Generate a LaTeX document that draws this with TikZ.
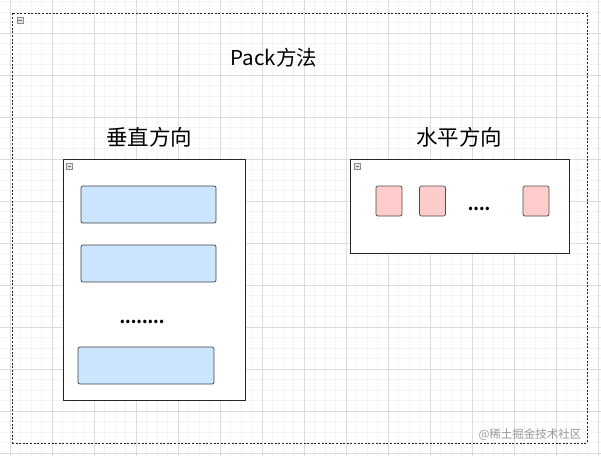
\documentclass[tikz,border=0pt]{standalone}
\usepackage{fontspec}
\setmainfont{Noto Sans CJK SC}
\newfontfamily\cjk{Noto Sans CJK SC}
\begin{document}
\begin{tikzpicture}[x=1pt,y=-1pt,
  container/.style={draw=black!85,line width=0.9pt,fill=white},
  bluebox/.style={draw=black!75,fill=blue!20!cyan!10!white,rounded corners=2pt,line width=0.7pt},
  pinkbox/.style={draw=black!70,fill=red!20,rounded corners=2pt,line width=0.7pt},
  title/.style={font=\fontsize{21.5}{24}\selectfont},
  dots/.style={font=\fontsize{16}{18}\selectfont\bfseries},
  icon/.style={draw=black!45,fill=black!10,minimum size=6pt,inner sep=0pt,line width=0.5pt}
]
\definecolor{bluefill}{HTML}{CCE5FF}
\definecolor{pinkfill}{HTML}{FFCCCC}
\definecolor{minorgrid}{HTML}{F4F4F4}
\definecolor{majorgrid}{HTML}{DCDCDC}
\useasboundingbox (0,0) rectangle (601,456);
\fill[white] (0,0) rectangle (601,456);
% grid
\foreach \i in {0,...,58} {
  \draw[minorgrid,line width=0.5pt] ({10+\i*10.5-10.5},0) -- ({10+\i*10.5-10.5},456);
}
\foreach \i in {0,...,44} {
  \draw[minorgrid,line width=0.5pt] (0,{-9+\i*10.5}) -- (601,{-9+\i*10.5});
}
\foreach \i in {0,...,14} {
  \draw[majorgrid,line width=0.6pt] ({10+\i*42},0) -- ({10+\i*42},456);
}
\foreach \i in {0,...,11} {
  \draw[majorgrid,line width=0.6pt] (0,{-9+\i*42}) -- (601,{-9+\i*42});
}
% outer dashed frame
\node[draw=black!85,dash pattern=on 2pt off 1.6pt,line width=0.8pt,minimum width=575pt,minimum height=430pt,inner sep=0pt] (outer) at (299.5,228) {};
\node[icon] (outericon) at (20,20) {};
\draw[black!55,line width=0.6pt] ([xshift=1.5pt]outericon.west) -- ([xshift=-1.5pt]outericon.east);
\node[font=\fontsize{20.5}{24}\selectfont] (packtitle) at (274,58) {Pack方法};
% left container
\node[title] (vtitle) at (149,137) {垂直方向};
\node[container,minimum width=182pt,minimum height=241pt,inner sep=0pt] (left) at (154,279.5) {};
\node[icon] (lefticon) at (69.5,166.5) {};
\draw[black!55,line width=0.6pt] ([xshift=1.5pt]lefticon.west) -- ([xshift=-1.5pt]lefticon.east);
\node[bluebox,fill=bluefill,minimum width=135pt,minimum height=37pt,inner sep=0pt] (b1) at (148.5,204.5) {};
\node[bluebox,fill=bluefill,minimum width=135pt,minimum height=37pt,inner sep=0pt] (b2) at (148.5,263.5) {};
\node[dots] (vdots) at (142,322) {........};
\node[bluebox,fill=bluefill,minimum width=136pt,minimum height=37pt,inner sep=0pt] (b3) at (146,365.5) {};
% right container
\node[title] (htitle) at (459,137) {水平方向};
\node[container,minimum width=219pt,minimum height=94pt,inner sep=0pt] (right) at (459.5,206) {};
\node[icon] (righticon) at (357.5,166.5) {};
\draw[black!55,line width=0.6pt] ([xshift=1.5pt]righticon.west) -- ([xshift=-1.5pt]righticon.east);
\node[pinkbox,fill=pinkfill,minimum width=26pt,minimum height=30pt,inner sep=0pt] (p1) at (389,201) {};
\node[pinkbox,fill=pinkfill,minimum width=26pt,minimum height=30pt,inner sep=0pt] (p2) at (432.5,201) {};
\node[dots] (hdots) at (479,209) {....};
\node[pinkbox,fill=pinkfill,minimum width=26pt,minimum height=30pt,inner sep=0pt] (p3) at (536,201) {};
% watermark
\node[text=black!40,font=\fontsize{11.5}{13}\selectfont,anchor=east] (wm) at (585,435) {@稀土掘金技术社区};
\end{tikzpicture}
\end{document}
